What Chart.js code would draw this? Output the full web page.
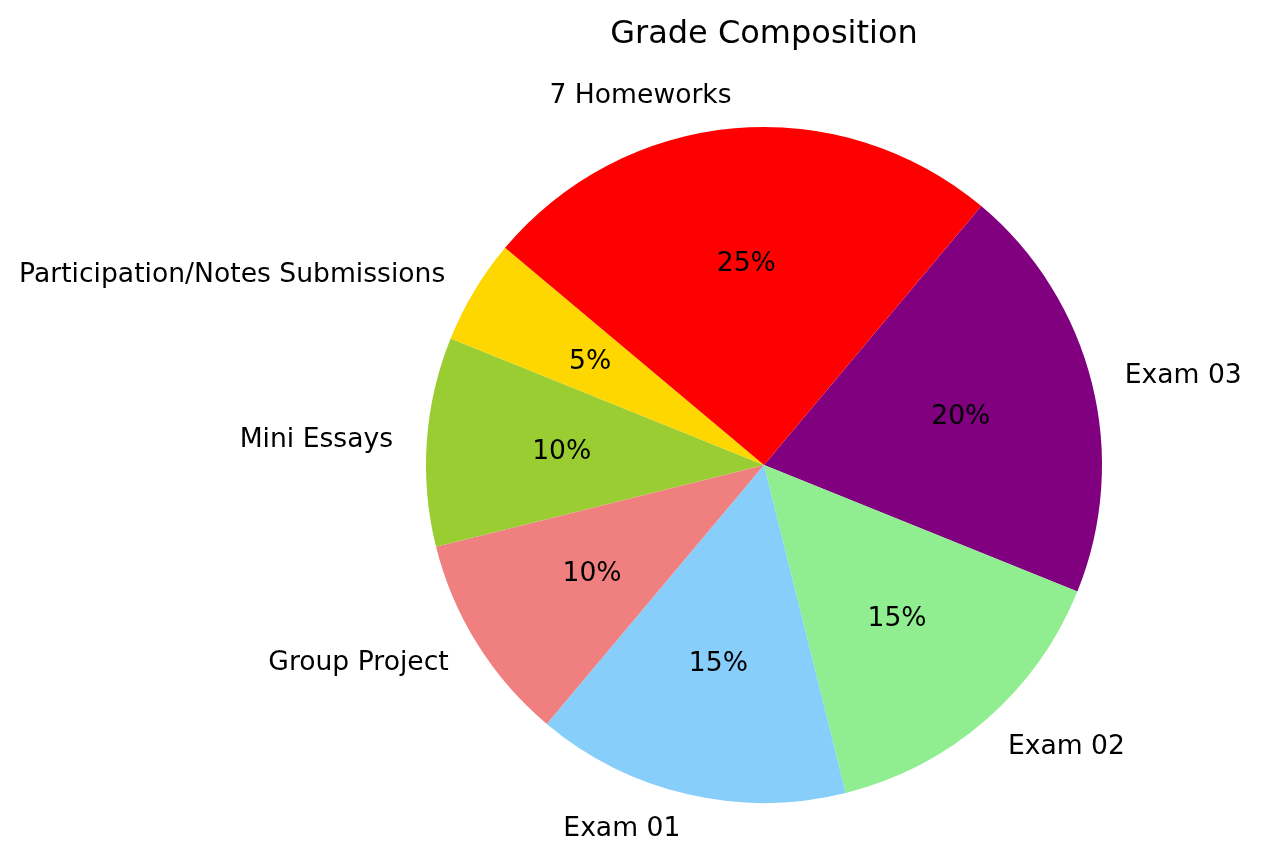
<!DOCTYPE html>
<html>
<head>
<meta charset="utf-8">
<script src="https://cdn.jsdelivr.net/npm/chart.js@4.4.0/dist/chart.umd.min.js"></script>
<style>
html,body{margin:0;padding:0;background:#fff;}
#wrap{width:1261px;height:860px;position:relative;}
</style>
</head>
<body>
<div id="wrap"><canvas id="c" width="1261" height="860"></canvas></div>
<script>
// Data (listed clockwise, starting from Exam 03)
const categories = ["Exam 03", "Exam 02", "Exam 01", "Group Project", "Mini Essays", "Participation/Notes Submissions", "7 Homeworks"];
const values = [20, 15, 15, 10, 10, 5, 25];
const colors = ["#800080", "#90EE90", "#87CEFA", "#F08080", "#9ACD32", "#FFD700", "#FF0000"];
const titleText = "Grade Composition";

const FONT = "'DejaVu Sans', sans-serif";
const LABEL_PX = 26.6;
const TITLE_PX = 32;
const TEXT_DY = 1.5;

const labelPlugin = {
  id: 'mplLabels',
  afterDatasetsDraw(chart) {
    const ctx = chart.ctx;
    const meta = chart.getDatasetMeta(0);
    const total = values.reduce((a, b) => a + b, 0);
    ctx.save();
    ctx.fillStyle = '#000';
    ctx.textBaseline = 'middle';
    meta.data.forEach((arc, i) => {
      const p = arc.getProps(['x', 'y', 'startAngle', 'endAngle', 'outerRadius'], true);
      const mid = (p.startAngle + p.endAngle) / 2;
      const c = Math.cos(mid), s = Math.sin(mid);
      // outer label
      ctx.font = LABEL_PX + 'px ' + FONT;
      ctx.textAlign = c > 0 ? 'left' : 'right';
      ctx.fillText(categories[i], p.x + 1.1 * p.outerRadius * c, p.y + 1.1 * p.outerRadius * s + TEXT_DY);
      // percent
      ctx.textAlign = 'center';
      const pct = Math.round(values[i] / total * 100) + '%';
      ctx.fillText(pct, p.x + 0.6 * p.outerRadius * c, p.y + 0.6 * p.outerRadius * s + TEXT_DY);
    });
    // title
    ctx.font = TITLE_PX + 'px ' + FONT;
    ctx.textAlign = 'center';
    ctx.textBaseline = 'alphabetic';
    ctx.fillText(titleText, meta.data[0].x, 43);
    ctx.restore();
  }
};

new Chart(document.getElementById('c'), {
  type: 'pie',
  data: {
    labels: categories,
    datasets: [{
      data: values,
      backgroundColor: colors,
      borderWidth: 0,
      hoverOffset: 0
    }]
  },
  options: {
    responsive: false,
    animation: false,
    rotation: 40,
    layout: { padding: { top: 127, bottom: 57, left: 426, right: 159 } },
    plugins: {
      legend: { display: false },
      tooltip: { enabled: false },
      title: { display: false }
    },
    events: []
  },
  plugins: [labelPlugin]
});
</script>
</body>
</html>
